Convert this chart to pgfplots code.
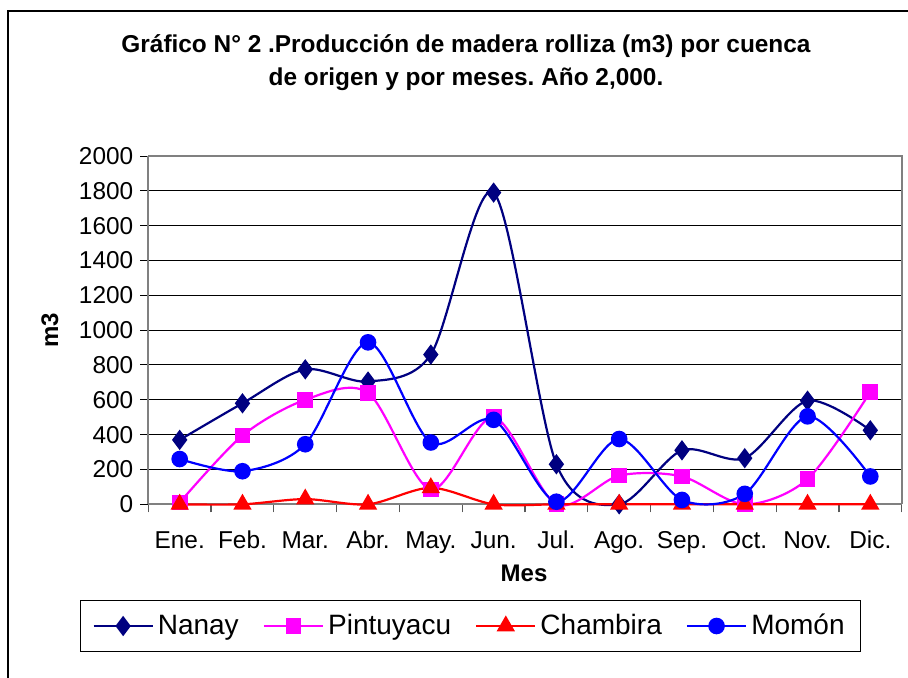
\documentclass[border=0pt]{standalone}
\usepackage{fontspec}
\setmainfont{Liberation Sans}
\usepackage{pgfplots}
\pgfplotsset{compat=1.18}
\definecolor{navy}{RGB}{0,0,128}
\definecolor{magx}{RGB}{255,0,255}
\definecolor{redx}{RGB}{255,0,0}
\definecolor{bluex}{RGB}{0,0,255}
\frenchspacing
\begin{document}
\begin{tikzpicture}
\path[use as bounding box] (0,0) rectangle (454pt,338.5pt);
\draw[black, line width=0.6pt] (4pt,-2pt) -- (4pt,333pt) -- (456pt,333pt);
\begin{axis}[
  at={(74.15pt,86.35pt)}, anchor=origin,
  scale only axis, width=376.7pt, height=174.15pt,
  xmin=0.5, xmax=12.5, ymin=0, ymax=2000,
  clip=false,
  /pgf/number format/assume math mode=true,
  font=\fontsize{12}{14}\selectfont,
  ticklabel style={font=\fontsize{12.2}{14}\selectfont},
  xtick={1,...,12},
  xticklabels={Ene.,Feb.,Mar.,Abr.,May.,Jun.,Jul.,Ago.,Sep.,Oct.,Nov.,Dic.},
  major x tick style={draw=none},
  minor xtick={0.5,1.5,...,12.5},
  minor x tick style={gray!70!black, line width=0.6pt},
  ytick={0,200,...,2000},
  yticklabel style={/pgf/number format/1000 sep={}},
  scaled y ticks=false,
  tick align=outside,
  major tick length=4pt, minor tick length=4pt,
  axis x line*=bottom, axis y line*=left,
  ymajorgrids, major grid style={black, line width=0.5pt},
  axis line style={gray, line width=1pt},
  y tick style={black, line width=0.5pt},
  xticklabel style={anchor=base, yshift=-18pt},
  every axis plot/.append style={line width=1.1pt, smooth},
  legend columns=4,
  legend style={at={(0.4277,-0.3494)}, anchor=center, draw=black, line width=0.4pt,
    font=\fontsize{14}{16}\selectfont, inner xsep=6pt, inner ysep=5pt,
    /tikz/every even column/.append style={column sep=10pt}},
  legend image code/.code={\draw[mark repeat=2,mark phase=2] plot coordinates {(0cm,0cm)(0.52cm,0cm)(1.04cm,0cm)};},
]
\draw[gray, line width=1pt] (axis cs:0.5,2000) -- (axis cs:12.5,2000) -- (axis cs:12.5,0);
\addplot[navy, mark=diamond*, mark size=4.2pt, mark options={solid,fill=navy}] coordinates {
(1,370)(2,580)(3,775)(4,705)(5,860)(6,1790)(7,230)(8,0)(9,310)(10,265)(11,595)(12,425)};
\addlegendentry{Nanay}
\addplot[magx, mark=square*, mark size=3.4pt, mark options={solid,fill=magx}] coordinates {
(1,10)(2,395)(3,600)(4,640)(5,85)(6,500)(7,0)(8,165)(9,160)(10,0)(11,145)(12,645)};
\addlegendentry{Pintuyacu}
\addplot[redx, mark=triangle*, mark size=4.2pt, mark options={solid,fill=redx}] coordinates {
(1,0)(2,0)(3,30)(4,0)(5,95)(6,0)(7,0)(8,0)(9,0)(10,0)(11,0)(12,0)};
\addlegendentry{Chambira}
\addplot[bluex, mark=*, mark size=3.6pt, mark options={solid,fill=bluex}] coordinates {
(1,260)(2,190)(3,345)(4,930)(5,355)(6,485)(7,15)(8,375)(9,25)(10,60)(11,505)(12,160)};
\addlegendentry{Momón}
\end{axis}
\node[font=\bfseries\fontsize{12.2}{16.5}\selectfont, align=center] at (233pt,307pt)
  {Gráfico N° 2 .Producción de madera rolliza (m3) por cuenca\\de origen y por meses. Año 2,000.};
\node[font=\bfseries\fontsize{12}{14}\selectfont, rotate=90] at (25pt,173.5pt) {m3};
\node[font=\bfseries\fontsize{12}{14}\selectfont] at (262pt,52pt) {Mes};
\end{tikzpicture}
\end{document}
